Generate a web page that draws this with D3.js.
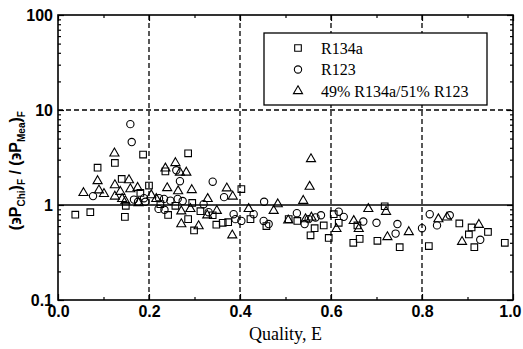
<!DOCTYPE html>
<html>
<head>
<meta charset="utf-8">
<script src="https://cdn.jsdelivr.net/npm/d3@7"></script>
<style>
  body { margin: 0; background: #fff; }
  svg { display: block; }
</style>
</head>
<body>
<div id="chart"></div>
<script>
// data: [quality, ratio]
const r134a = [
  [0.038, 0.79], [0.071, 0.84], [0.147, 0.75], [0.125, 2.77], [0.187, 3.4], [0.087, 2.47],
  [0.140, 1.88], [0.181, 1.34], [0.200, 1.60], [0.149, 0.98], [0.286, 3.5], [0.236, 2.26],
  [0.295, 1.05], [0.242, 0.785], [0.299, 0.54], [0.286, 0.71], [0.348, 0.62], [0.362, 0.65],
  [0.374, 0.66], [0.403, 1.47], [0.423, 0.71], [0.458, 0.60], [0.507, 0.71], [0.526, 0.68],
  [0.564, 0.57], [0.555, 0.48], [0.584, 0.61], [0.595, 0.45], [0.606, 0.80], [0.617, 0.65],
  [0.658, 0.61], [0.663, 0.44], [0.649, 0.40], [0.718, 0.97], [0.702, 0.42], [0.751, 0.36],
  [0.815, 0.37], [0.882, 0.64], [0.909, 0.58], [0.903, 0.49], [0.915, 0.36], [0.945, 0.52],
  [0.982, 0.40], [0.225, 1.02], [0.258, 0.98], [0.313, 0.86], [0.340, 0.78]
];
const r123 = [
  [0.159, 7.1], [0.162, 4.6], [0.077, 1.24], [0.167, 1.14], [0.176, 1.08], [0.189, 1.18],
  [0.192, 1.08], [0.260, 2.32], [0.268, 1.78], [0.340, 1.76], [0.365, 1.21], [0.222, 1.18],
  [0.233, 1.16], [0.247, 1.11], [0.263, 1.16], [0.274, 1.10], [0.221, 0.91], [0.234, 0.89],
  [0.386, 0.80], [0.403, 0.68], [0.453, 1.08], [0.390, 0.71], [0.430, 0.80], [0.452, 0.68],
  [0.463, 0.63], [0.525, 0.82], [0.542, 0.63], [0.551, 0.71], [0.566, 0.74], [0.578, 0.78],
  [0.617, 0.85], [0.628, 0.75], [0.671, 0.67], [0.700, 0.65], [0.746, 0.63], [0.742, 0.50],
  [0.800, 0.57], [0.817, 0.80], [0.833, 0.61], [0.861, 0.78], [0.928, 0.43], [0.320, 1.02],
  [0.331, 0.84]
];
const mix = [
  [0.124, 3.5], [0.087, 1.79], [0.056, 1.34], [0.090, 1.43], [0.101, 1.31], [0.156, 1.83],
  [0.125, 1.62], [0.137, 1.38], [0.125, 1.23], [0.159, 1.47], [0.175, 1.52], [0.205, 1.27],
  [0.141, 1.16], [0.148, 1.10], [0.177, 1.05], [0.258, 2.77], [0.236, 2.43], [0.268, 2.20],
  [0.282, 2.20], [0.240, 1.51], [0.264, 1.40], [0.294, 1.44], [0.371, 1.50], [0.384, 1.23],
  [0.329, 1.16], [0.271, 0.63], [0.309, 0.60], [0.383, 0.48], [0.328, 0.78], [0.349, 0.87],
  [0.271, 0.86], [0.291, 0.91], [0.556, 3.05], [0.553, 1.56], [0.539, 1.11], [0.483, 1.02],
  [0.419, 0.91], [0.506, 0.69], [0.557, 0.74], [0.544, 0.71], [0.474, 0.87], [0.682, 0.91],
  [0.721, 0.85], [0.612, 0.56], [0.650, 0.68], [0.661, 0.56], [0.724, 0.46], [0.771, 0.52],
  [0.836, 0.71], [0.855, 0.74], [0.925, 0.62], [0.888, 0.41], [0.216, 1.16]
];
const seriesNames = ['R134a', 'R123', '49% R134a/51% R123'];
const xTicks = [0, 0.2, 0.4, 0.6, 0.8, 1.0];
const yTicks = [0.1, 1, 10, 100];

const W = 523, H = 349, m = { t: 15, r: 10, b: 49, l: 58 };
const svg = d3.select('#chart').append('svg').attr('width', W).attr('height', H);

const x = d3.scaleLinear().domain([0, 1]).range([m.l, W - m.r]);
const y = d3.scaleLog().domain([0.1, 100]).range([H - m.b, m.t]);

// grid lines
const grid = svg.append('g').attr('stroke', '#000').attr('stroke-width', 1.3);
grid.selectAll('line.v').data([0.2, 0.4, 0.6, 0.8]).enter().append('line')
  .attr('x1', d => x(d)).attr('x2', d => x(d)).attr('y1', m.t).attr('y2', H - m.b)
  .attr('stroke-dasharray', '5,3');
grid.append('line').attr('x1', m.l).attr('x2', W - m.r).attr('y1', y(10)).attr('y2', y(10))
  .attr('stroke-dasharray', '5,3');
grid.append('line').attr('x1', m.l).attr('x2', W - m.r).attr('y1', y(1)).attr('y2', y(1))
  .attr('stroke-width', 1.6);

// axes with ticks pointing inward
const minorY = [];
[0.1, 1, 10].forEach(d => { for (let k = 2; k <= 9; k++) minorY.push(d * k); });
const axL = svg.append('g').attr('transform', `translate(${m.l},0)`)
  .call(d3.axisLeft(y).tickValues(yTicks).tickSize(-6).tickFormat(d => d >= 1 ? d3.format('d')(d) : d));
const axLm = svg.append('g').attr('transform', `translate(${m.l},0)`)
  .call(d3.axisLeft(y).tickValues(minorY).tickSize(-3).tickFormat(''));
const axR = svg.append('g').attr('transform', `translate(${W - m.r},0)`)
  .call(d3.axisRight(y).tickValues(yTicks).tickSize(-6).tickFormat(''));
const axRm = svg.append('g').attr('transform', `translate(${W - m.r},0)`)
  .call(d3.axisRight(y).tickValues(minorY).tickSize(-3).tickFormat(''));
const axB = svg.append('g').attr('transform', `translate(0,${H - m.b})`)
  .call(d3.axisBottom(x).tickValues(xTicks).tickSize(-6).tickFormat(d3.format('.1f')));
const axBm = svg.append('g').attr('transform', `translate(0,${H - m.b})`)
  .call(d3.axisBottom(x).tickValues([0.1, 0.3, 0.5, 0.7, 0.9]).tickSize(-3).tickFormat(''));
const axT = svg.append('g').attr('transform', `translate(0,${m.t})`)
  .call(d3.axisTop(x).tickValues(xTicks).tickSize(-6).tickFormat(''));
const axTm = svg.append('g').attr('transform', `translate(0,${m.t})`)
  .call(d3.axisTop(x).tickValues([0.1, 0.3, 0.5, 0.7, 0.9]).tickSize(-3).tickFormat(''));

[axL, axLm, axR, axRm, axB, axBm, axT, axTm].forEach(a => {
  a.select('.domain').remove();
  a.selectAll('line').attr('stroke', '#000').attr('stroke-width', 1.2);
});
[axL, axB].forEach(a => a.selectAll('text')
  .attr('font-family', 'Liberation Sans, Arial, sans-serif')
  .attr('font-size', 16).attr('font-weight', 'bold').attr('fill', '#000'));
axL.selectAll('text').attr('x', -5);
axB.selectAll('text').attr('y', 6);
// last label sits against the right edge, keep it inside the page
axB.selectAll('.tick text').filter(d => d === 1).attr('text-anchor', 'end').attr('dx', 8);

// frame
svg.append('rect').attr('x', m.l).attr('y', m.t)
  .attr('width', W - m.r - m.l).attr('height', H - m.b - m.t)
  .attr('fill', 'none').attr('stroke', '#000').attr('stroke-width', 1.6);

// markers
const sq = d3.symbol().type(d3.symbolSquare).size(44);
const ci = d3.symbol().type(d3.symbolCircle).size(42);
const tr = d3.symbol().type(d3.symbolTriangle).size(36);
const shapes = [sq, ci, tr];
[r134a, r123, mix].forEach((data, i) => {
  svg.append('g').selectAll('path').data(data).enter().append('path')
    .attr('transform', d => `translate(${x(d[0])},${y(d[1])})`)
    .attr('d', shapes[i])
    .attr('fill', 'none').attr('stroke', '#000').attr('stroke-width', 1.1);
});

// legend
const lg = svg.append('g');
lg.append('rect').attr('x', 264).attr('y', 33).attr('width', 223).attr('height', 72)
  .attr('fill', '#fff').attr('stroke', '#000').attr('stroke-width', 1.3);
seriesNames.forEach((name, i) => {
  const yy = 48 + i * 21.5;
  lg.append('path').attr('transform', `translate(298,${yy})`).attr('d', shapes[i])
    .attr('fill', 'none').attr('stroke', '#000').attr('stroke-width', 1.1);
  lg.append('text').attr('x', 321).attr('y', yy + 5.5).text(name)
    .attr('font-family', 'Liberation Serif, Times New Roman, serif').attr('font-size', 16)
    .attr('fill', '#000');
});

// axis titles
svg.append('text').attr('x', x(0.5)).attr('y', 340).attr('text-anchor', 'middle')
  .attr('font-family', 'Liberation Serif, Times New Roman, serif').attr('font-size', 18)
  .text('Quality, E');

const yt = svg.append('text').attr('transform', `translate(21,${y(2.3)}) rotate(-90)`)
  .attr('text-anchor', 'middle')
  .attr('font-family', 'Liberation Sans, Arial, sans-serif').attr('font-size', 16)
  .attr('font-weight', 'bold');
yt.append('tspan').text('(\u03F6P');
yt.append('tspan').text('Chi').attr('font-size', 10).attr('dy', 4);
yt.append('tspan').text(')').attr('dy', -4);
yt.append('tspan').text('F').attr('font-size', 10).attr('dy', 4);
yt.append('tspan').text(' / (\u03F6P').attr('dy', -4);
yt.append('tspan').text('Mea').attr('font-size', 10).attr('dy', 4);
yt.append('tspan').text(')').attr('dy', -4);
yt.append('tspan').text('F').attr('font-size', 10).attr('dy', 4);
</script>
</body>
</html>
